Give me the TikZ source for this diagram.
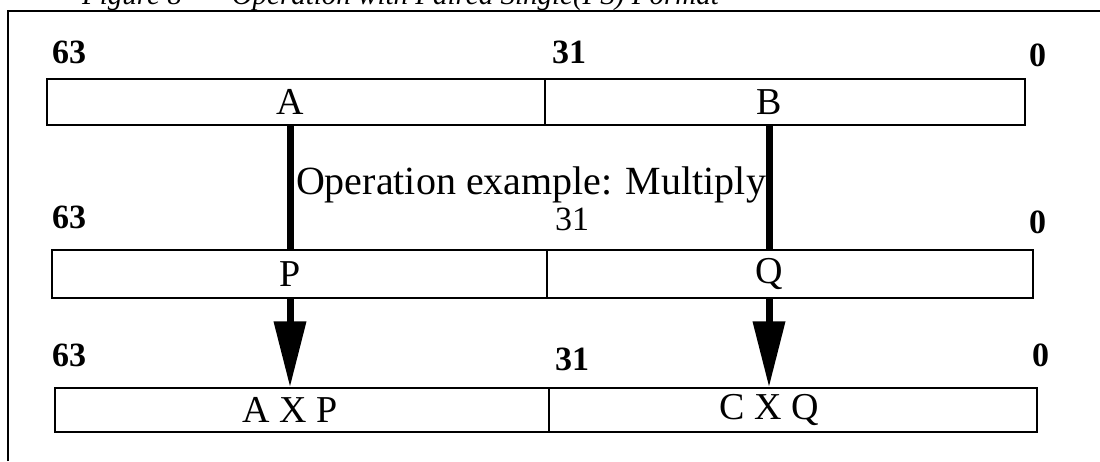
\documentclass[tikz,border=0pt]{standalone}
\usepackage{fontspec}
\setmainfont{Liberation Serif}
\usetikzlibrary{arrows.meta}

\begin{document}
\begin{tikzpicture}[
    x=1pt, y=-1pt,
    every node/.style={inner sep=0pt, font=\fontsize{38}{40}\selectfont},
    field/.style={rectangle, draw, line width=1.4pt},
    bitno/.style={anchor=base west, font=\fontsize{34}{36}\selectfont\bfseries},
    caption/.style={anchor=base west, font=\fontsize{29}{31}\selectfont\itshape},
    stem/.style={line width=7pt},
    pointer/.style={line width=7pt, -{Triangle[length=66pt, width=31pt]}},
]
\useasboundingbox (0,0) rectangle (1100,461);

% frame of the figure, title sits above it
\node[caption] (title) at (82,4) {Figure 8 \,—\, Operation with Paired Single(PS) Format};
\draw[line width=2pt] (8,461) -- (8,11) -- (1100,11);

% source register
\node[field, minimum width=498pt, minimum height=46pt] (srcA) at (296,102) {};
\node[field, minimum width=480pt, minimum height=46pt] (srcB) at (785,102) {};
\node (lA) at (290,102) {A};
\node (lB) at (769,102) {B};
\node[bitno] (s63) at (52,63) {63};
\node[bitno] (s31) at (552,63) {31};
\node[bitno] (s0) at (1029,66) {0};

% operand register
\node[field, minimum width=495pt, minimum height=48pt] (opP) at (299.5,274) {};
\node[field, minimum width=486pt, minimum height=48pt] (opQ) at (790,274) {};
\node (lP) at (290,274) {P};
\node (lQ) at (769,274) {Q};
\node[bitno] (o63) at (52,228) {63};
\node[bitno, font=\fontsize{34}{36}\selectfont] (o31) at (555,230) {31};
\node[bitno] (o0) at (1029,233) {0};

% result register
\node[field, minimum width=494pt, minimum height=44pt] (resA) at (302,410) {};
\node[field, minimum width=488pt, minimum height=44pt] (resB) at (793,410) {};
\node (lAP) at (290,410) {A X P};
\node (lCQ) at (769,410) {C X Q};
\node[bitno] (r63) at (52,366) {63};
\node[bitno] (r31) at (555,370) {31};
\node[bitno] (r0) at (1032,366) {0};

% data flow
\draw[stem] (lA |- srcA.south) -- (lP |- opP.north);
\draw[stem] (lB |- srcB.south) -- (lQ |- opQ.north);
\draw[pointer] (lP |- opP.south) -- (lAP |- resA.north);
\draw[pointer] (lQ |- opQ.south) -- (lCQ |- resB.north);

\node[font=\fontsize{40}{42}\selectfont] (op) at (531,185) {Operation example: Multiply};

\end{tikzpicture}
\end{document}
